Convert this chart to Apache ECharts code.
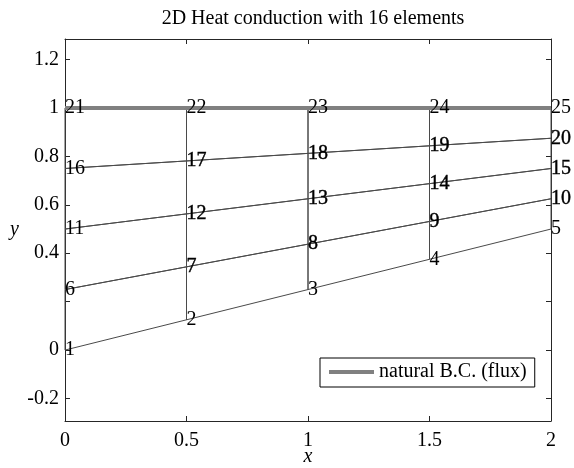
<!DOCTYPE html>
<html><head><meta charset="utf-8">
<script src="https://cdn.jsdelivr.net/npm/echarts@6/dist/echarts.min.js"></script>
<style>html,body{margin:0;padding:0;background:#fff}#c{width:574px;height:468px}</style>
</head><body><div id="c"></div>
<script>
// ---- data ----
const titleText = '2D Heat conduction with 16 elements';
const xAxisName = 'x';
const yAxisName = 'y';
const nodeX = [0,0.5,1,1.5,2, 0,0.5,1,1.5,2, 0,0.5,1,1.5,2, 0,0.5,1,1.5,2, 0,0.5,1,1.5,2];
const nodeY = [0,0.125,0.25,0.375,0.5,
               0.25,0.34375,0.4375,0.53125,0.625,
               0.5,0.5625,0.625,0.6875,0.75,
               0.75,0.78125,0.8125,0.84375,0.875,
               1,1,1,1,1];
const elements = [
  [1,2,7,6],[2,3,8,7],[3,4,9,8],[4,5,10,9],
  [6,7,12,11],[7,8,13,12],[8,9,14,13],[9,10,15,14],
  [11,12,17,16],[12,13,18,17],[13,14,19,18],[14,15,20,19],
  [16,17,22,21],[17,18,23,22],[18,19,24,23],[19,20,25,24]
];
const fluxEdge = [21,22,23,24,25];
const fluxName = 'natural B.C. (flux)';
const heavyNodes = [7,8,9,10,12,13,14,15,17,18,19,20];
const xTicks = [0,0.5,1,1.5,2];
const yTicks = [-0.2,0,0.2,0.4,0.6,0.8,1,1.2];
const yTickLabels = [-0.2,0,0.4,0.6,0.8,1,1.2];

// ---- chart ----
const FONT = 'Liberation Serif';
const pt = n => [nodeX[n-1], nodeY[n-1]];
const series = [];
elements.forEach(el => {
  series.push({
    type:'line', silent:true, animation:false, showSymbol:false, symbol:'none',
    data: el.concat([el[0]]).map(pt),
    lineStyle:{color:'#4a4a4a', width:1}, z:2
  });
});
series.push({
  name: fluxName, type:'line', animation:false, showSymbol:false, symbol:'none',
  data: fluxEdge.map(pt), lineStyle:{color:'#808080', width:4}, itemStyle:{color:'#808080'}, z:3
});
function labelSeries(heavy){
  const data = [];
  nodeX.forEach((x,i)=>{ if (heavyNodes.includes(i+1) === heavy) data.push([x, nodeY[i], i+1]); });
  return {
    type:'scatter', animation:false, silent:true, symbol:'circle', symbolSize:0,
    itemStyle:{color:'#000', opacity:1}, z:5, data,
    label:{show:true, position:'right', distance:0, offset:[0,2],
      formatter:p=>String(p.value[2]),
      fontFamily:FONT, fontSize:20, fontWeight:'normal', fontStyle:'normal', color:'#000',
      textBorderColor:'#000', textBorderWidth: heavy?0.4:0},
    labelLayout:{hideOverlap:false},
    emphasis:{disabled:true}
  };
}
series.push(labelSeries(false));
series.push(labelSeries(true));

const axisLineStyle = {color:'#262626', width:1};
const chart = echarts.init(document.getElementById('c'), null, {renderer:'canvas'});
chart.setOption({
  backgroundColor:'#fff',
  animation:false,
  textStyle:{fontFamily:FONT},
  title:{text:titleText, left:308, top:4, textAlign:'center',
    textStyle:{fontFamily:FONT, fontSize:20, fontWeight:'normal', color:'#000'}},
  graphic:[{type:'text', x:308, y:457, silent:true,
    style:{text:xAxisName, fontFamily:FONT, fontSize:20, fontStyle:'italic', fill:'#000',
      align:'center', verticalAlign:'middle'}}],
  legend:{data:[fluxName], left:320, top:358, orient:'horizontal',
    icon:'rect', itemWidth:45, itemHeight:4, itemGap:5,
    padding:[4,8,5,9], borderColor:'#000', borderWidth:1, borderRadius:0, backgroundColor:'#fff',
    textStyle:{fontFamily:FONT, fontSize:20, color:'#000'}, selectedMode:false},
  grid:{left:65, right:23, top:39, bottom:47, containLabel:false, outerBoundsMode:'none'},
  xAxis:[
    {type:'value', min:0, max:2, interval:0.5, position:'bottom',
     axisLine:{show:true, onZero:false, lineStyle:axisLineStyle},
     axisTick:{show:true, inside:true, length:5, lineStyle:axisLineStyle},
     axisLabel:{fontFamily:FONT, fontSize:20, color:'#000', margin:10, formatter:v=>String(v)},
     splitLine:{show:false}},
    {type:'value', min:0, max:2, interval:0.5, position:'top',
     axisLine:{show:true, onZero:false, lineStyle:axisLineStyle},
     axisTick:{show:true, inside:true, length:5, lineStyle:axisLineStyle},
     axisLabel:{show:false}, splitLine:{show:false}}
  ],
  yAxis:[
    {type:'value', min:-0.293, max:1.285, position:'left',
     name:yAxisName, nameLocation:'middle', nameGap:46, nameRotate:0,
     nameTextStyle:{fontFamily:FONT, fontSize:20, fontStyle:'italic', color:'#000'},
     axisLine:{show:true, onZero:false, lineStyle:axisLineStyle},
     axisTick:{show:true, inside:true, length:5, lineStyle:axisLineStyle, customValues:yTicks},
     axisLabel:{fontFamily:FONT, fontSize:20, color:'#000', margin:6, customValues:yTickLabels,
       formatter:v=>String(Math.round(v*10)/10)},
     splitLine:{show:false}},
    {type:'value', min:-0.293, max:1.285, position:'right',
     axisLine:{show:true, onZero:false, lineStyle:axisLineStyle},
     axisTick:{show:true, inside:true, length:5, lineStyle:axisLineStyle, customValues:yTicks},
     axisLabel:{show:false}, splitLine:{show:false}}
  ],
  series: series
});
</script>
</body></html>
